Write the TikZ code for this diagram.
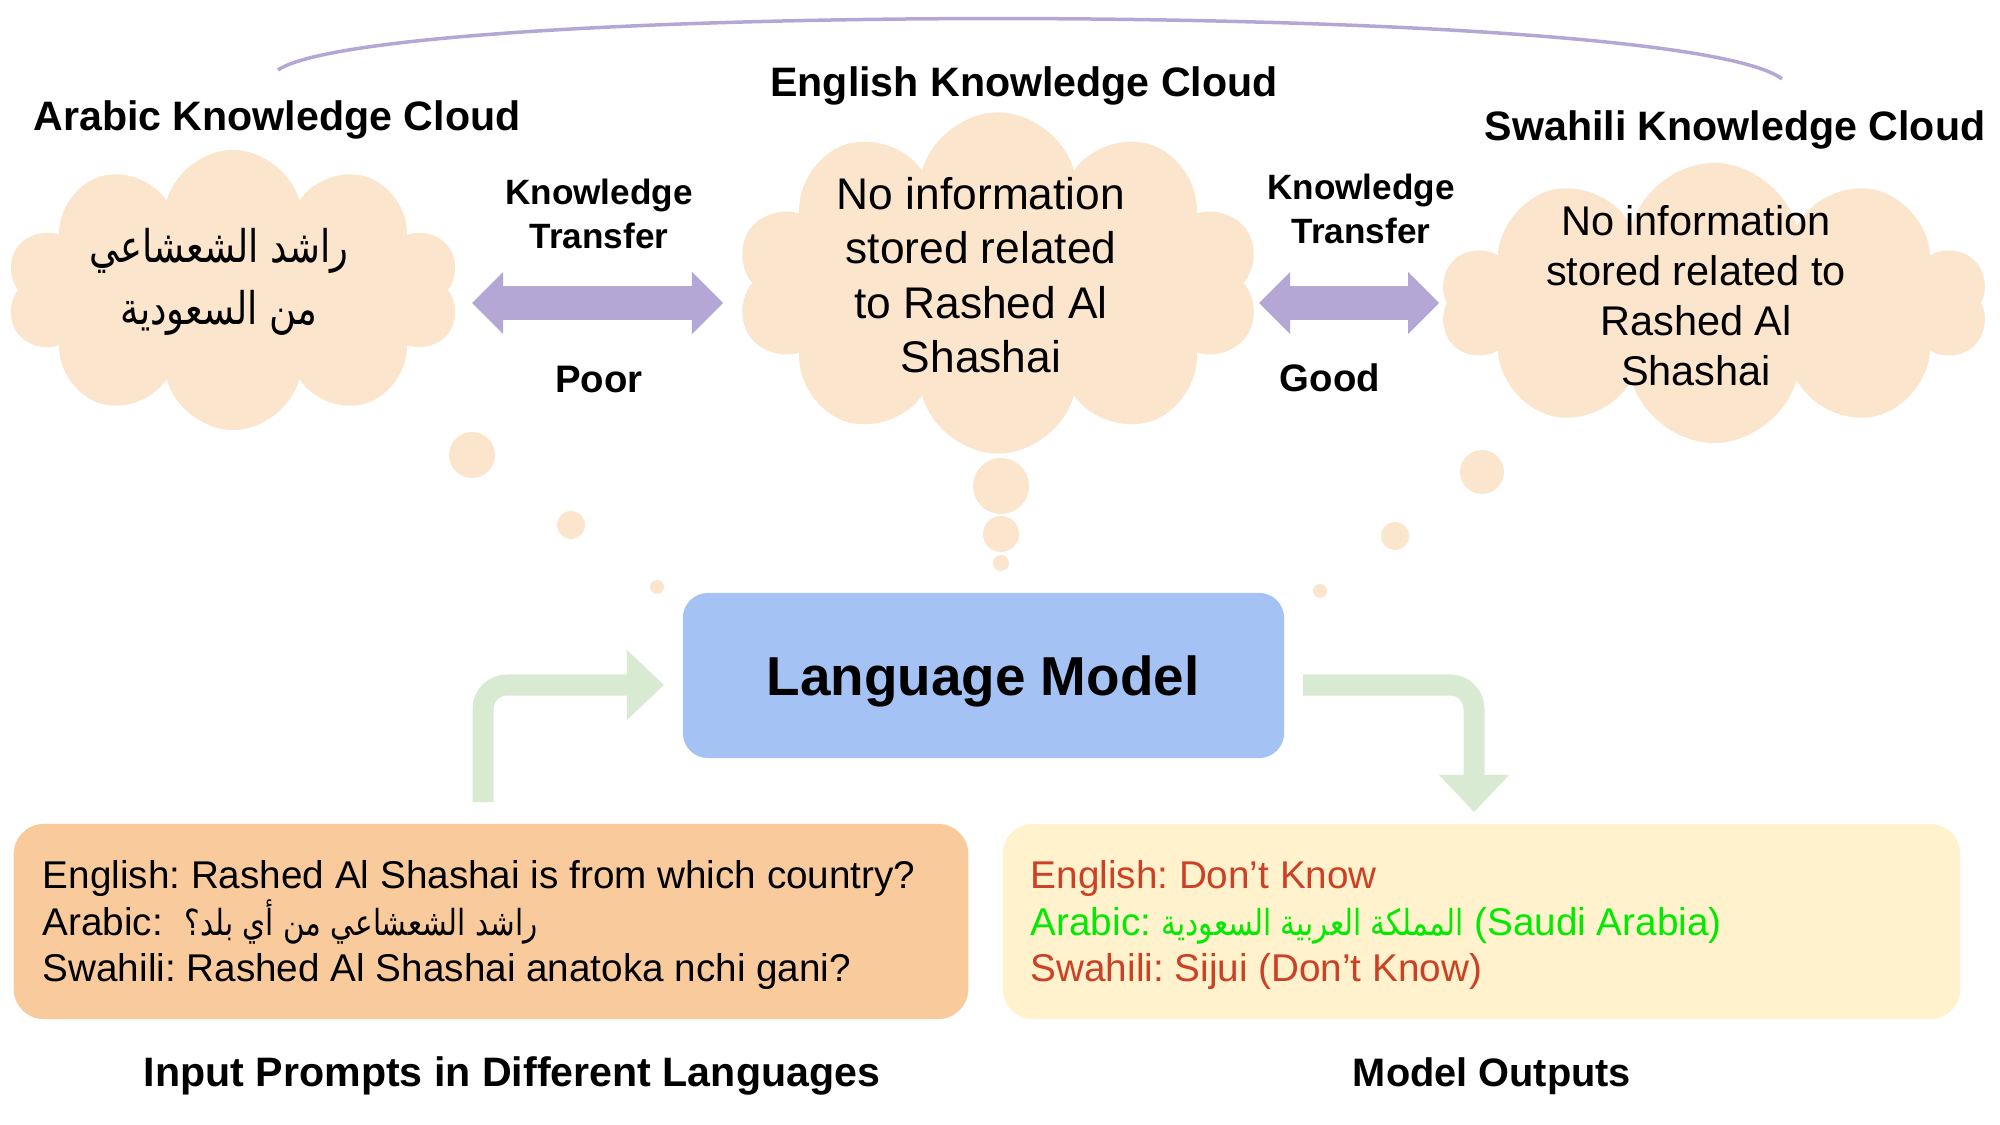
\documentclass[tikz,border=0pt]{standalone}
\usepackage{fontspec}
\setmainfont{Liberation Sans}
\newfontfamily\arabicfont[Script=Arabic,FakeStretch=0.82]{DejaVu Sans}
\TeXXeTstate=1
\frenchspacing
\usetikzlibrary{shapes.symbols,arrows.meta,positioning}
\definecolor{cloudfill}{HTML}{FCE5CD}
\definecolor{transferpurple}{HTML}{B4A7D6}
\definecolor{flowgreen}{HTML}{D9EAD3}
\definecolor{modelblue}{HTML}{A4C2F4}
\definecolor{promptorange}{HTML}{F9CB9C}
\definecolor{outputyellow}{HTML}{FFF2CC}
\definecolor{wrongred}{HTML}{CC4125}
\definecolor{rightgreen}{RGB}{0,235,0}
\newcommand{\boxarabic}[1]{{\arabicfont\fontsize{10.2}{13.1}\selectfont\beginR #1\endR}}
\begin{document}
\begin{tikzpicture}[x=0.01cm,y=-0.01cm,
	title/.style={font=\bfseries\fontsize{11.7}{14}\selectfont,anchor=base},
	cloudbg/.style={cloud,cloud puffs=10,cloud ignores aspect,fill=cloudfill,inner sep=0pt},
	transferlabel/.style={font=\bfseries\fontsize{10}{12.5}\selectfont,align=center},
	transfer/.style={transferpurple,line width=0.33cm,
		{Triangle[length=0.31cm,width=0.62cm,line width=0pt]}-{Triangle[length=0.31cm,width=0.62cm,line width=0pt]}},
	flow/.style={flowgreen,line width=0.21cm,rounded corners=0.24cm,
		-{Triangle[length=0.37cm,width=0.70cm,line width=0pt]}},
	boxtext/.style={font=\fontsize{11}{13.1}\selectfont,align=left,anchor=west,inner sep=0pt}]
	\useasboundingbox (0,0) rectangle (2000,1125);
	\draw[transferpurple,line width=0.035cm] (278,70) .. controls (380,0) and (1680,0) .. (1782,79);%arc over clouds
	
	\node[cloudbg,minimum width=4.53cm,minimum height=2.8cm] (acloud) at (233,290) {};
	\node[cloudbg,minimum width=5.23cm,minimum height=3.41cm] (ecloud) at (998,283) {};
	\node[cloudbg,minimum width=5.46cm,minimum height=2.8cm] (scloud) at (1714,303) {};
	\foreach \x/\y/\r in {472/455/23,571/525/14,657/587/7,1001/486/28,1001/534/18,1001/563/8,1482/472/22,1395/536/14,1320/591/7}
		\fill[cloudfill] (\x,\y) circle[radius=\r];%bubbles
	
	\node[title] (atitle) at (277,131) {Arabic Knowledge Cloud};
	\node[title] (etitle) at (1024,97) {English Knowledge Cloud};
	\node[title] (stitle) at (1735,141) {Swahili Knowledge Cloud};
	
	\node[font=\arabicfont\fontsize{12.8}{17.6}\selectfont,align=center] (atext) at (219,282) {\beginR راشد الشعشاعي\endR\\\beginR من السعودية\endR};
	\node[font=\fontsize{12.6}{15.5}\selectfont,align=center] (etext) at (981,275) {No information\\stored related\\to Rashed Al\\Shashai};
	\node[font=\fontsize{11.8}{14.2}\selectfont,align=center] (stext) at (1696,296) {No information\\stored related to\\Rashed Al\\Shashai};
	
	\coordinate (ta1) at (472,303);
	\coordinate (ta2) at (723,303);
	\coordinate (tb1) at (1259,303);
	\coordinate (tb2) at (1439,303);
	\draw[transfer] (ta1) -- (ta2);
	\draw[transfer] (tb1) -- (tb2);
	\node[transferlabel] (kta) at (599,214) {Knowledge\\Transfer};
	\node[transferlabel] (ktb) at (1361,209) {Knowledge\\Transfer};
	\node[transferlabel,font=\bfseries\fontsize{10.9}{13}\selectfont] (poor) at (599,380) {Poor};
	\node[transferlabel,font=\bfseries\fontsize{10.9}{13}\selectfont] (good) at (1330,378) {Good};
	
	\node[fill=modelblue,rounded corners=0.25cm,minimum width=6.01cm,minimum height=1.65cm] (lm) at (983.5,675.5) {};
	\node[font=\bfseries\fontsize{15.6}{18}\selectfont] (lmtext) at (983,681) {Language Model};
	
	\node[fill=promptorange,rounded corners=0.3cm,minimum width=9.54cm,minimum height=1.95cm] (inbox) at (491,921.5) {};
	\node[fill=outputyellow,rounded corners=0.3cm,minimum width=9.57cm,minimum height=1.95cm] (outbox) at (1481.5,921.5) {};
	\node[boxtext] (intext) at (42,925) {English: Rashed Al Shashai is from which country?\\Arabic:\ \ \boxarabic{راشد الشعشاعي من أي بلد؟}\\Swahili: Rashed Al Shashai anatoka nchi gani?};
	\node[boxtext] (outtext) at (1030,925) {\textcolor{wrongred}{English: Don’t Know}\\\textcolor{rightgreen}{Arabic: \boxarabic{المملكة العربية السعودية} (Saudi Arabia)}\\\textcolor{wrongred}{Swahili: Sijui (Don’t Know)}};
	
	\coordinate (inflow) at (483,802);
	\coordinate (inend) at (664,685);
	\coordinate (outflow) at (1303,685);
	\coordinate (outend) at (1474,812);
	\draw[flow] (inflow) |- (inend);
	\draw[flow] (outflow) -| (outend);
	
	\node[title] (inlabel) at (512,1086) {Input Prompts in Different Languages};
	\node[title,font=\bfseries\fontsize{11.3}{14}\selectfont] (outlabel) at (1492,1086) {Model Outputs};
\end{tikzpicture}
\end{document}
